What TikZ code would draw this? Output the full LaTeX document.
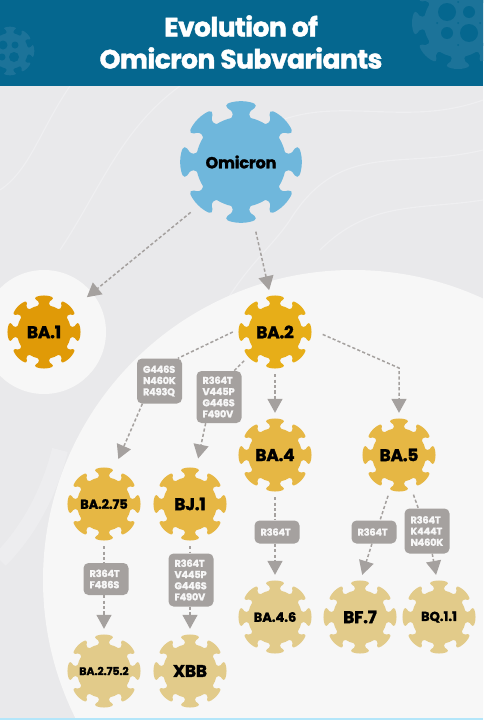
\documentclass[tikz,border=0pt]{standalone}
\usepackage{fontspec}
\setmainfont{Poppins}[BoldFeatures={FakeBold=1.6}]
\usepackage{xcolor}
\usetikzlibrary{arrows.meta,positioning,calc}
\definecolor{Header}{HTML}{05678F}
\definecolor{HeaderGerm}{HTML}{1C7399}
\definecolor{Paper}{HTML}{E9E9EB}
\definecolor{Wave}{HTML}{EFEFF1}
\definecolor{Pale}{HTML}{F7F7F7}
\definecolor{Muted}{HTML}{A5A19F}
\definecolor{Sky}{HTML}{6FB7DC}
\definecolor{Amber}{HTML}{E09A07}
\definecolor{Gold}{HTML}{E7AE18}
\definecolor{Honey}{HTML}{E6B744}
\definecolor{Sand}{HTML}{E2CB8A}
\tikzset{
  pics/germ/.style 2 args={code={
    \fill[#2] (0,0) circle[radius=#1pt];
    \foreach \ang in {0,45,...,315}
      \fill[#2,rotate=\ang,scale=#1] (0.94,-0.25) .. controls (1.02,-0.17) and (1.08,-0.17) .. (1.14,-0.22)
        .. controls (1.18,-0.27) and (1.20,-0.33) .. (1.25,-0.33)
        .. controls (1.29,-0.33) and (1.31,-0.28) .. (1.33,-0.20)
        .. controls (1.36,-0.08) and (1.36,0.08) .. (1.33,0.20)
        .. controls (1.31,0.28) and (1.29,0.33) .. (1.25,0.33)
        .. controls (1.20,0.33) and (1.18,0.27) .. (1.14,0.22)
        .. controls (1.08,0.17) and (1.02,0.17) .. (0.94,0.25) -- cycle;
  }}
}
\newcommand{\virus}[6]{
  \pic at (#2) {germ={#3}{#4}};
  \node[germnode,#6] (#1) at (#2) {#5};
}
\begin{document}
\begin{tikzpicture}[x=1pt,y=-1pt,
    germnode/.style={circle,minimum size=84pt,inner sep=0pt,text=black,font=\bfseries\fontsize{17}{17}\selectfont\addfontfeature{LetterSpace=-1.5}},
    mut/.style={fill=Muted,rounded corners=5pt,minimum width=45pt,inner sep=0pt,text width=33pt,align=left,text=Pale,font=\bfseries\fontsize{9.8}{11.2}\selectfont\addfontfeature{LetterSpace=-2}},
    a/.style={-{Triangle[length=14pt,width=15pt]},draw=Muted,line width=1.5pt,dash pattern=on 3.2pt off 2.2pt}]
    \useasboundingbox (0,0) rectangle (489,720);
    \fill[Paper] (0,86) rectangle (483,718);
    \begin{scope}
      \clip (0,86) rectangle (483,718);
      \draw[Wave,line width=1.2pt] (483,100) .. controls (400,130) and (330,90) .. (260,130);
      \draw[Wave,line width=1.2pt] (483,150) .. controls (400,170) and (340,140) .. (290,220) .. controls (270,250) and (240,270) .. (210,330);
      \draw[Wave,line width=1.2pt] (483,200) .. controls (420,210) and (370,200) .. (320,250);
      \draw[Wave,line width=1.2pt] (180,86) .. controls (120,130) and (100,190) .. (60,250);
      \draw[Wave,line width=1.2pt] (70,86) .. controls (40,130) and (30,170) .. (0,190);
      \draw[Wave,line width=16pt,opacity=.7] (60,450) .. controls (50,490) and (30,530) .. (0,560);
      \draw[Wave,line width=3pt] (105,400) .. controls (110,440) and (95,480) .. (75,520);
      \fill[Pale] (44,332) circle[radius=62pt];
      \fill[Pale] (353,580) circle[radius=310pt];
    \end{scope}
    \fill[Header] (0,0) rectangle (483,86);
    \fill[cyan!30!white] (0,718) rectangle (483,720);
    % faint germs in the banner
    \begin{scope}
      \clip (0,0) rectangle (483,86);
      \pic at (458,23) {germ={34}{HeaderGerm}};
      \pic at (10,51) {germ={18}{HeaderGerm}};
      \foreach \hx/\hy/\hr in {447/12/9,469/12/6,447/33/6,469/33/9,437/23/1,458/23/1,480/23/1,458/2/1,458/45/1,3/45/4.5,15/45/3.5,2/57/3.5,14/57/5}
        \fill[Header] (\hx,\hy) circle[radius=\hr pt];
    \end{scope}
    \node[text=white,align=center,font=\bfseries\fontsize{26.5}{32}\selectfont\addfontfeature{LetterSpace=-2}] (title) at (241,42) {Evolution of\\Omicron Subvariants};
    % viruses
    \virus{omicron}{241,162}{45}{Sky}{Omicron}{minimum size=142pt,font=\bfseries\fontsize{16}{16}\selectfont\addfontfeature{LetterSpace=-1}}
    \virus{ba1}{44,332}{27}{Amber}{BA.1}{}
    \virus{ba2}{275,332}{27}{Gold}{BA.2}{}
    \virus{ba4}{275,455}{27}{Honey}{BA.4}{}
    \virus{ba5}{399,455}{27}{Honey}{BA.5}{}
    \virus{ba275}{104,504}{27}{Honey}{BA.2.75}{font=\bfseries\fontsize{13}{13}\selectfont\addfontfeature{LetterSpace=-1}}
    \virus{bj1}{190,504}{27}{Honey}{BJ.1}{}
    \virus{ba46}{275,617}{27}{Sand}{BA.4.6}{font=\bfseries\fontsize{13}{13}\selectfont}
    \virus{bf7}{360,617}{27}{Sand}{BF.7}{}
    \virus{bq11}{439,617}{27}{Sand}{BQ.1.1}{font=\bfseries\fontsize{13}{13}\selectfont}
    \virus{ba2752}{104,671}{27}{Sand}{BA.2.75.2}{font=\bfseries\fontsize{11}{11}\selectfont\addfontfeature{LetterSpace=-1}}
    \virus{xbb}{190,671}{27}{Sand}{XBB}{}
    % mutation boxes
    \node[mut,minimum height=45pt] (m275) at (159.5,381) {G446S\\N460K\\R493Q};
    \node[mut,minimum height=52pt] (mbj) at (219,397) {R364T\\V445P\\G446S\\F490V};
    \node[mut,minimum height=23pt] (m46) at (277,532) {R364T};
    \node[mut,minimum height=23pt] (mbf) at (374,532) {R364T};
    \node[mut,minimum height=45pt] (mbq) at (427,531) {R364T\\K444T\\N460K};
    \node[mut,minimum height=32pt] (m2752) at (106,579) {R364T\\F486S};
    \node[mut,minimum height=53pt] (mxbb) at (191,580) {R364T\\V445P\\G446S\\F490V};
    \coordinate (bend) at (399,368);
    % connectors
    \draw[a,shorten >=13pt] (omicron.225) -- (ba1.39);
    \draw[a] (omicron.-78) -- (ba2.98);
    \draw[a,-] (ba2.180) -- (m275.51);
    \draw[a,shorten >=5pt] (m275.233) -- (ba275.73);
    \draw[a,-] (ba2.223) -- (mbj.60);
    \draw[a,shorten >=4pt] (mbj.243) -- (bj1.80);
    \draw[a] (ba2.south) -- (ba4.north);
    \draw[a,shorten <=6pt] (ba2.east) -- (bend) -- (ba5.north);
    \draw[a,-] (ba4.south) -- (ba4 |- m46.north);
    \draw[a] (ba46 |- m46.south) -- (ba46.north);
    \draw[a,-] (ba5.255) -- (mbf.63);
    \draw[a] (mbf.-100) -- (bf7.87);
    \draw[a,-] (ba5.-70) -- (mbq.111);
    \draw[a] (mbq.-77) -- (bq11.94);
    \draw[a,-] (ba275.south) -- (ba275 |- m2752.north);
    \draw[a] (ba2752 |- m2752.south) -- (ba2752.north);
    \draw[a,-] (bj1.south) -- (bj1 |- mxbb.north);
    \draw[a] (xbb |- mxbb.south) -- (xbb.north);
\end{tikzpicture}
\end{document}
